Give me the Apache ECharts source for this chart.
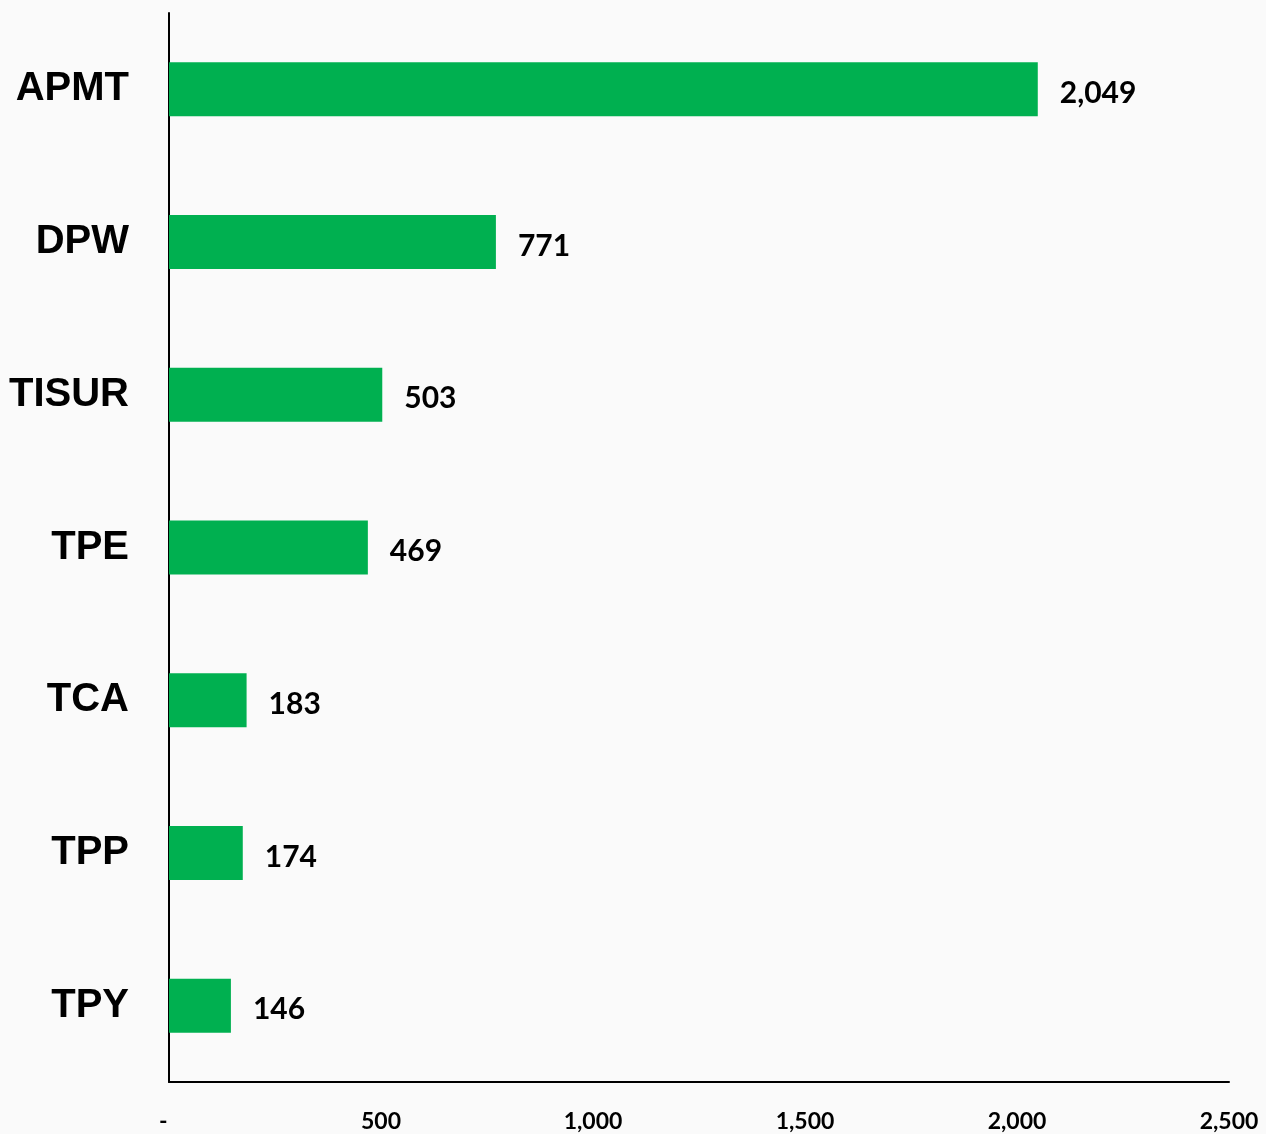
<!DOCTYPE html>
<html><head><meta charset="utf-8">
<script src="https://cdn.jsdelivr.net/npm/echarts@6/dist/echarts.min.js"></script>
<style>html,body{margin:0;padding:0;background:#fafafa;}#c{width:1266px;height:1134px;}</style>
</head><body><div id="c"></div>
<script>
const categories = ["APMT","DPW","TISUR","TPE","TCA","TPP","TPY"];
const values = [2049, 771, 503, 469, 183, 174, 146];
const tickLabels = {0:"-  ",500:"500",1000:"1,000",1500:"1,500",2000:"2,000",2500:"2,500"};

const chart = echarts.init(document.getElementById('c'));
chart.setOption({
  backgroundColor: '#fafafa',
  animation: false,
  grid: {left: 169, right: 37, top: 13, bottom: 52},
  xAxis: {
    type: 'value', min: 0, max: 2500, interval: 500,
    splitLine: {show: false},
    axisLine: {show: true, lineStyle: {color: '#000', width: 2}},
    axisTick: {show: false},
    axisLabel: {
      margin: 28, color: '#000', fontFamily: 'Lato, "Open Sans", sans-serif', fontWeight: 'bold', fontSize: 23,
      formatter: v => tickLabels[v] !== undefined ? tickLabels[v] : String(v)
    }
  },
  yAxis: {
    type: 'category', data: categories, inverse: true,
    axisLine: {show: true, lineStyle: {color: '#000', width: 2}},
    axisTick: {show: false},
    axisLabel: {margin: 40, color: '#000', fontFamily: '"Liberation Sans", Arial, sans-serif', fontWeight: 'bold', fontSize: 40}
  },
  series: [{
    type: 'bar', data: values, barWidth: 54,
    itemStyle: {color: '#00b050'},
    label: {
      show: true, position: 'right', distance: 22, offset: [0, 4],
      color: '#000', fontFamily: 'Lato, "Open Sans", sans-serif', fontWeight: 'bold', fontSize: 30,
      formatter: p => p.value.toLocaleString('en-US')
    }
  }]
});
</script></body></html>
